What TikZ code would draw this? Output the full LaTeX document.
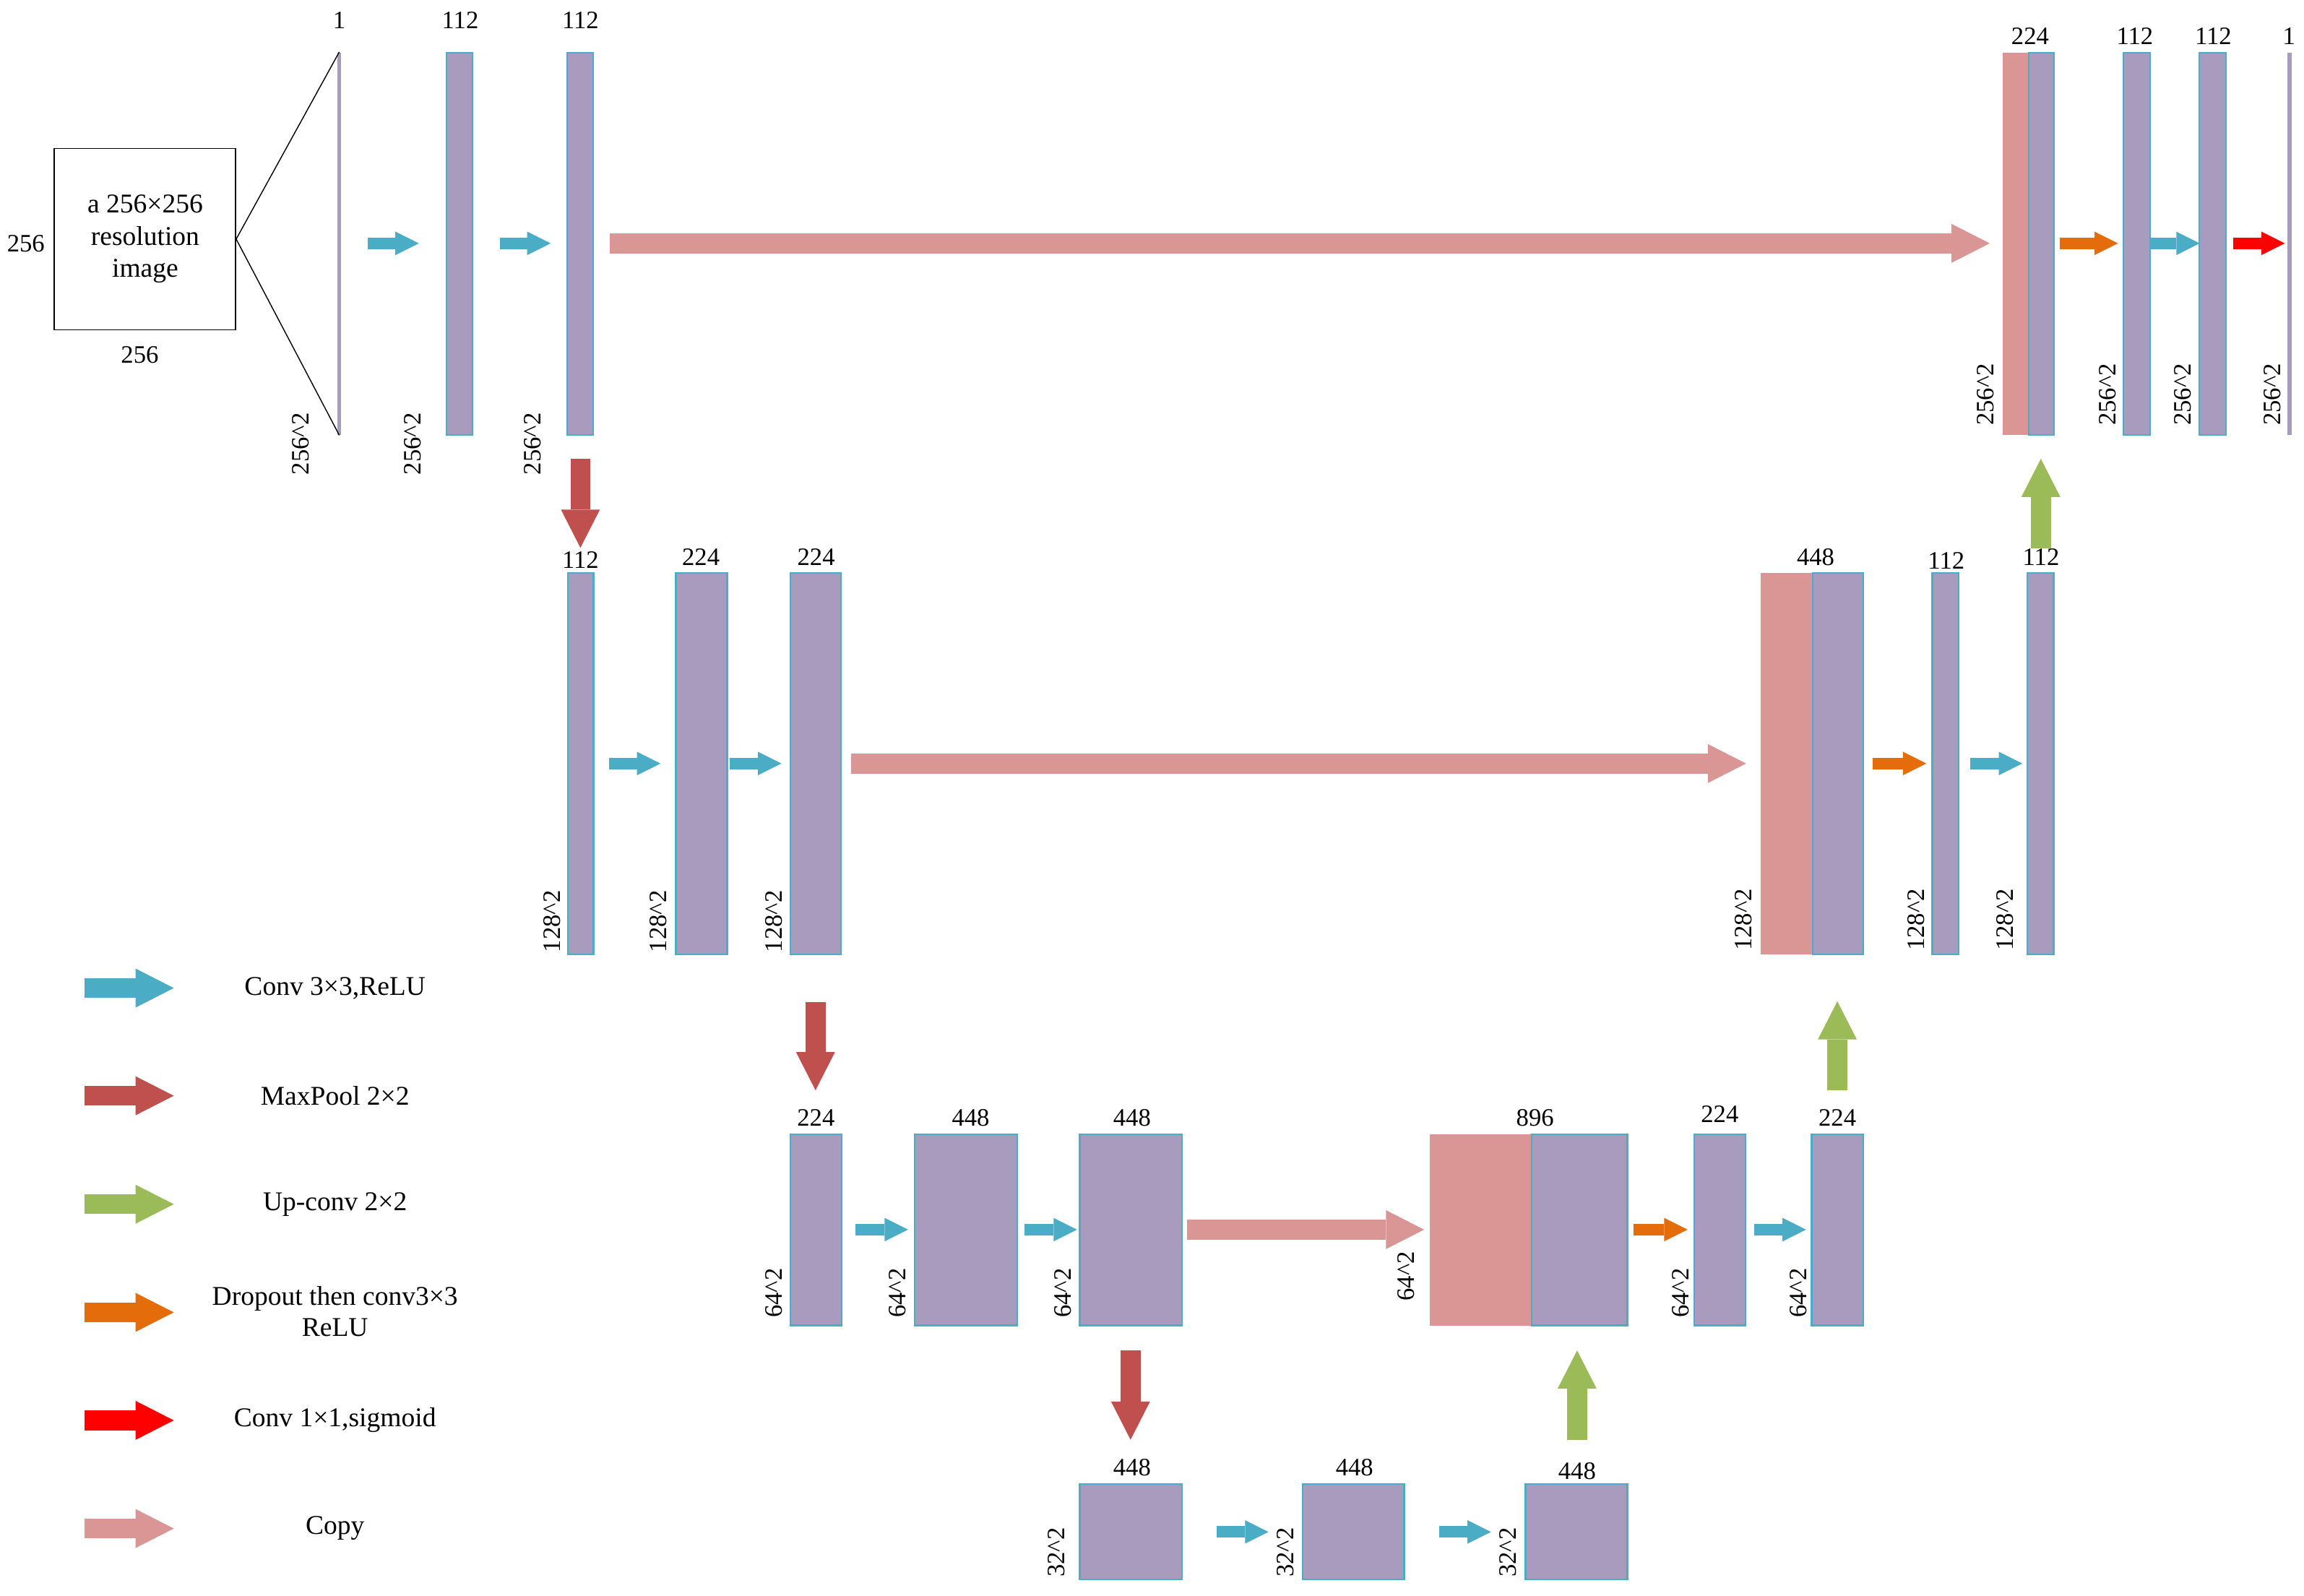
\documentclass[tikz,border=0pt]{standalone}
\usepackage{fontspec}
\setmainfont{Liberation Serif}
\usetikzlibrary{arrows.meta,fit}
\definecolor{cpurple}{HTML}{A99BBE}
\definecolor{cpink}{HTML}{D99694}
\definecolor{cborder}{HTML}{4BACC6}
\definecolor{ccyan}{HTML}{4BACC6}
\definecolor{cmaxp}{HTML}{C0504D}
\definecolor{cgreen}{HTML}{9BBB59}
\definecolor{corange}{HTML}{E46C0A}
\definecolor{cred}{HTML}{FF0000}
\definecolor{ccopy}{HTML}{D99694}
\tikzset{
  blk/.style={draw=cborder, fill=cpurple, line width=0.6pt, inner sep=0pt, rectangle},
  pinkblk/.style={fill=cpink, draw=none, inner sep=0pt, rectangle},
  thinblk/.style={fill=cpurple, draw=none, inner sep=0pt, rectangle},
  lab/.style={font=\fontsize{9.7}{11}\selectfont, inner sep=0pt},
  rot/.style={font=\fontsize{9.7}{11}\selectfont, inner sep=0pt, rotate=90},
  legtxt/.style={font=\fontsize{10.5}{11.9}\selectfont, inner sep=0pt, align=center},
  smallarr/.style={line width=0.16cm, -{Triangle[length=0.32cm 0 0, width=0.32cm 0 0, line width=0pt]}},
  bigarr/.style={line width=0.27cm, -{Triangle[length=0.52cm 0 0, width=0.53cm 0 0, line width=0pt]}}
}
\newcommand\blk[5]{\node[blk, fit={(#2,#4) (#3,#5)}] (#1) {};}
\newcommand\thinb[5]{\node[thinblk, fit={(#2,#4) (#3,#5)}] (#1) {};}
\newcommand\catb[6]{\node[pinkblk, fit={(#2,#5) (#3,#6)}] (#1p) {};\node[blk, fit={(#3,#5) (#4,#6)}] (#1) {};}
\newcommand\harr[6]{\coordinate (#1s) at (#3,#5);\coordinate (#1e) at (#4,#5);\draw[#6,#2] (#1s) -- (#1e);}
\newcommand\varr[6]{\coordinate (#1s) at (#3,#4);\coordinate (#1e) at (#3,#5);\draw[#6,#2] (#1s) -- (#1e);}
\begin{document}
\begin{tikzpicture}[x=0.02cm, y=-0.02cm]
\useasboundingbox (0,0) rectangle (1568,1086);
% ---------- input ----------
\node[draw=black, line width=0.5pt, inner sep=0pt, fit={(36.7,101) (160.3,224.4)}] (inbox) {};
\node[font=\fontsize{10.5}{12.5}\selectfont, align=center, inner sep=0pt] (intxt) at (98.8,162.7) {a 256×256\\resolution\\image};
\node[lab] (inl) at (17.6,165.6) {256};
\node[lab] (inb) at (95.1,241.7) {256};
\thinb{in0}{229.7}{232.1}{35.7}{295.8}
\draw[line width=0.4pt] (inbox.east) -- (in0.north);
\draw[line width=0.4pt] (inbox.east) -- (in0.south);
% ---------- top row ----------
\blk{t1}{304}{321.7}{35.7}{295.8}
\blk{t2}{386}{403.6}{35.7}{295.8}
\catb{tc}{1362.8}{1380.8}{1398}{35.7}{295.8}
\blk{t4}{1445.2}{1463.1}{35.7}{295.8}
\blk{t5}{1496.8}{1514.9}{35.7}{295.8}
\thinb{tout}{1556.7}{1559.5}{35.7}{295.8}
\node[lab] (l01) at (230.9,13.7) {1};
\node[lab] (l02) at (313.2,13.7) {112};
\node[lab] (l03) at (395,13.7) {112};
\node[lab] (l04) at (1381.6,24.5) {224};
\node[lab] (l05) at (1452.9,24.5) {112};
\node[lab] (l06) at (1506.2,24.5) {112};
\node[lab] (l07) at (1557.8,24.5) {1};
\node[rot] (r01) at (204.6,302) {256\textasciicircum 2};
\node[rot] (r02) at (280.8,302) {256\textasciicircum 2};
\node[rot] (r03) at (362.7,302) {256\textasciicircum 2};
\node[rot] (r04) at (1351.3,268.5) {256\textasciicircum 2};
\node[rot] (r05) at (1434.1,268.5) {256\textasciicircum 2};
\node[rot] (r06) at (1485.7,268.5) {256\textasciicircum 2};
\node[rot] (r07) at (1546.3,268.5) {256\textasciicircum 2};
\harr{a01}{ccyan}{250.3}{285}{165.6}{smallarr}
\harr{a02}{ccyan}{340}{374.8}{165.6}{smallarr}
\harr{a03}{ccopy}{414.9}{1354.1}{165.6}{bigarr}
\harr{a04}{corange}{1401.8}{1441.4}{165.6}{smallarr}
\harr{a05}{ccyan}{1463.1}{1497.1}{165.6}{smallarr}
\harr{a06}{cred}{1519.6}{1555}{165.6}{smallarr}
% ---------- row 2 ----------
\blk{m1}{386.3}{403.9}{390}{649.5}
\blk{m2}{460}{494.9}{390}{649.5}
\blk{m3}{537.8}{572.4}{390}{649.5}
\catb{mc}{1198.2}{1233.5}{1268}{390}{649.5}
\blk{m4}{1315}{1333}{390}{649.5}
\blk{m5}{1379.7}{1397.6}{390}{649.5}
\node[lab] (l11) at (395,380.9) {112};
\node[lab] (l12) at (477,379.2) {224};
\node[lab] (l13) at (555.4,379.2) {224};
\node[lab] (l14) at (1235.6,379.2) {448};
\node[lab] (l15) at (1324.5,381.5) {112};
\node[lab] (l16) at (1389,379.2) {112};
\node[rot] (r11) at (375.5,627) {128\textasciicircum 2};
\node[rot] (r12) at (448.2,627) {128\textasciicircum 2};
\node[rot] (r13) at (526.5,627) {128\textasciicircum 2};
\node[rot] (r14) at (1186.4,626) {128\textasciicircum 2};
\node[rot] (r15) at (1304,626) {128\textasciicircum 2};
\node[rot] (r16) at (1364.5,626) {128\textasciicircum 2};
\varr{p1}{cmaxp}{395}{312.2}{372.8}{bigarr}
\varr{u3}{cgreen}{1388.9}{373.2}{312.2}{bigarr}
\harr{a11}{ccyan}{414.4}{449.5}{519.6}{smallarr}
\harr{a12}{ccyan}{496.4}{531.8}{519.6}{smallarr}
\harr{a13}{ccopy}{579}{1188.3}{519.6}{bigarr}
\harr{a14}{corange}{1274.2}{1311}{519.6}{smallarr}
\harr{a15}{ccyan}{1340.8}{1376.3}{519.6}{smallarr}
% ---------- row 3 ----------
\blk{b1}{537.7}{572.9}{771.9}{902}
\blk{b2}{622.4}{692.2}{771.9}{902}
\blk{b3}{734.8}{804.2}{771.9}{902}
\catb{bc}{973.2}{1042.5}{1107.5}{771.9}{902}
\blk{b4}{1153.2}{1188.1}{771.9}{902}
\blk{b5}{1232.9}{1268.1}{771.9}{902}
\node[lab] (l21) at (555.3,760.8) {224};
\node[lab] (l22) at (660.6,760.8) {448};
\node[lab] (l23) at (770.4,760.8) {448};
\node[lab] (l24) at (1044.7,760.8) {896};
\node[lab] (l25) at (1170.4,758.4) {224};
\node[lab] (l26) at (1250.4,760.4) {224};
\node[rot] (r21) at (526.8,880) {64\textasciicircum 2};
\node[rot] (r22) at (611,880) {64\textasciicircum 2};
\node[rot] (r23) at (723.4,880) {64\textasciicircum 2};
\node[rot] (r24) at (957,868.5) {64\textasciicircum 2};
\node[rot] (r25) at (1143.9,880) {64\textasciicircum 2};
\node[rot] (r26) at (1223.9,880) {64\textasciicircum 2};
\varr{p2}{cmaxp}{555}{682.2}{742}{bigarr}
\varr{u2}{cgreen}{1250.4}{741.9}{681.4}{bigarr}
\harr{a21}{ccyan}{582}{618}{836.8}{smallarr}
\harr{a22}{ccyan}{697}{733}{836.8}{smallarr}
\harr{a23}{ccopy}{807.7}{969.2}{836.8}{bigarr}
\harr{a24}{corange}{1111.6}{1148.5}{836.8}{smallarr}
\harr{a25}{ccyan}{1193.9}{1229.1}{836.8}{smallarr}
% ---------- row 4 ----------
\blk{q1}{734.8}{804.2}{1009.8}{1075}
\blk{q2}{886.7}{955.6}{1009.8}{1075}
\blk{q3}{1038.2}{1107.5}{1009.8}{1075}
\node[lab] (l31) at (770.4,998.7) {448};
\node[lab] (l32) at (921.8,998.7) {448};
\node[lab] (l33) at (1073.3,1001) {448};
\node[rot] (r31) at (719,1056.4) {32\textasciicircum 2};
\node[rot] (r32) at (874.9,1056.4) {32\textasciicircum 2};
\node[rot] (r33) at (1026.3,1056.4) {32\textasciicircum 2};
\varr{p3}{cmaxp}{769.4}{919}{979.8}{bigarr}
\varr{u1}{cgreen}{1073.3}{979.8}{919}{bigarr}
\harr{a31}{ccyan}{828}{863.3}{1042.5}{smallarr}
\harr{a32}{ccyan}{979.4}{1014.7}{1042.5}{smallarr}
% ---------- legend ----------
\harr{g1}{ccyan}{57.4}{118.3}{672.4}{bigarr}
\harr{g2}{cmaxp}{57.4}{118.3}{745.7}{bigarr}
\harr{g3}{cgreen}{57.4}{118.3}{819.5}{bigarr}
\harr{g4}{corange}{57.4}{118.3}{893.1}{bigarr}
\harr{g5}{cred}{57.4}{118.3}{966.6}{bigarr}
\harr{g6}{ccopy}{57.4}{118.3}{1040.2}{bigarr}
\node[legtxt] (t1l) at (228,672.4) {Conv 3×3,ReLU};
\node[legtxt] (t2l) at (228,745.7) {MaxPool 2×2};
\node[legtxt] (t3l) at (228,819.5) {Up-conv 2×2};
\node[legtxt] (t4l) at (228,892.5) {Dropout then conv3×3\\ReLU};
\node[legtxt] (t5l) at (228,966.6) {Conv 1×1,sigmoid};
\node[legtxt] (t6l) at (228,1040.2) {Copy};
\end{tikzpicture}
\end{document}
